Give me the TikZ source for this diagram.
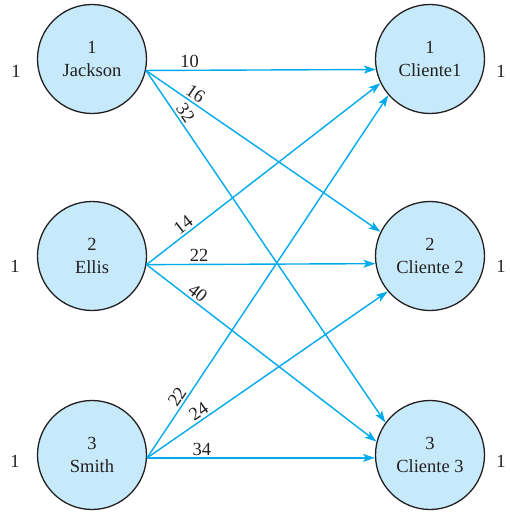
\documentclass[tikz,border=0pt]{standalone}
\usepackage{fontspec}
\setmainfont{Liberation Serif}
\usetikzlibrary{arrows.meta}
\definecolor{nodefill}{RGB}{199,234,250}
\definecolor{linkblue}{RGB}{0,170,235}
\definecolor{inkgrey}{RGB}{35,31,32}
\begin{document}
\begin{tikzpicture}[x=1pt,y=-1pt,
  every node/.style={font=\fontsize{18.5}{22.5}\selectfont, text=inkgrey},
  site/.style={circle, draw=inkgrey, line width=1.3pt, fill=nodefill, minimum size=109pt, inner sep=0pt, align=center},
  link/.style={draw=linkblue, line width=1.4pt, -{Stealth[length=12pt,width=8pt,inset=3pt]}},
  cost/.style={sloped, above, inner sep=2pt},
  supply/.style={inner sep=0pt}]
\useasboundingbox (0,0) rectangle (509,513);
% sources
\node[site] (J) at (92,59) {1\\Jackson};
\node[site] (E) at (92,256) {2\\Ellis};
\node[site] (S) at (92,455) {3\\Smith};
% destinations
\node[site] (C1) at (430,59) {1\\Cliente1};
\node[site] (C2) at (430,256) {2\\Cliente 2};
\node[site] (C3) at (430,455) {3\\Cliente 3};
% supplies / demands
\node[supply] (sJ) at (16,71) {1};
\node[supply] (sE) at (15,266) {1};
\node[supply] (sS) at (15,461) {1};
\node[supply] (dC1) at (501,71) {1};
\node[supply] (dC2) at (501,266) {1};
\node[supply] (dC3) at (501,461) {1};
% links
\draw[link] (J.348.5) -- node[cost, pos=0.19] {10} (C1.191.5);
\draw[link] (J.348.5) -- node[cost, pos=0.19] {16} (C2.154.8);
\draw[link] (J.348.5) -- node[cost, pos=0.135] {32} (C3.144.9);
\draw[link] (E.351.6) -- node[cost, pos=0.18] {14} (C1.206.6);
\draw[link] (E.351.6) -- node[cost, pos=0.23] {22} (C2.188.4);
\draw[link] (E.351.6) -- node[cost, pos=0.2] {40} (C3.166.5);
\draw[link] (S.357) -- node[cost, pos=0.155] {22} (C1.221.5);
\draw[link] (S.357) -- node[cost, pos=0.235] {24} (C2.220.7);
\draw[link] (S.357) -- node[cost, pos=0.24] {34} (C3.183);
\end{tikzpicture}
\end{document}
